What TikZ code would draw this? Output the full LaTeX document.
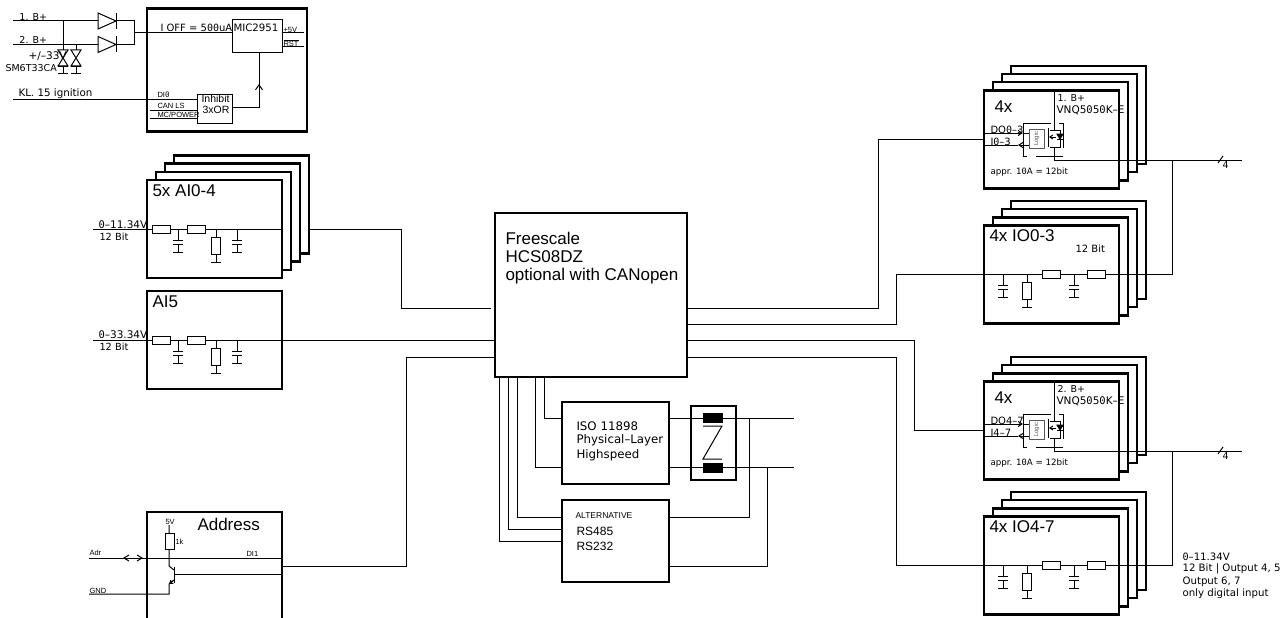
\documentclass[tikz,border=0pt]{standalone}
\usepackage{fontspec}
\setmainfont{Liberation Sans}
\newfontfamily\cadfont{DejaVu Sans}
\newfontfamily\zerofont{DejaVu Sans Mono}
\newcommand{\zr}{{\zerofont 0}}
\usetikzlibrary{arrows.meta}
\tikzset{
	capg/.pic={\draw (0,0) -- (0,11) (-5,11) -- (5,11) (-5,15) -- (5,15) (0,15) -- (0,23) (-5,23) -- (5,23);},
	resv/.pic={\draw (0,0) -- (0,8) (0,25) -- (0,33) (-5,33) -- (5,33); \draw[fill=white] (-4.5,8) rectangle (4.5,25);},
	resh/.pic={\draw[fill=white] (0,-4) rectangle (18,4);},
	diode/.pic={\draw[fill=white] (0,-8) -- (18,0) -- (0,8) -- cycle; \draw (18,-8) -- (18,8);},
	tvs/.pic={\draw (-5,0) -- (5,0) -- (-5,16) -- (5,16) -- cycle; \draw (0,16) -- (0,24) (-5,17) -- (5,17) (-5,24) -- (5,24);}
}
% front box with three boxes behind it
\newcommand{\stackbx}[3]{
	\foreach \s in {3,2,1} {\node[bx] (#1b\s) at ({#2+\s*8.9},{#3-\s*8.2}) {};}
	\node[bx] (#1) at (#2,#3) {};
}
% two resistors and a filter on the input of a card
\newcommand{\filtera}[1]{
	\pic at (152,#1) {resh};
	\pic at (187.5,#1) {resh};
	\pic at (178,#1) {capg};
	\pic at (216,#1) {resv};
	\pic at (237,#1) {capg};
}
\newcommand{\filterb}[1]{
	\pic at (1003,#1) {capg};
	\pic at (1027,#1) {resv};
	\pic at (1042.5,#1) {resh};
	\pic at (1074,#1) {capg};
	\pic at (1087.5,#1) {resh};
}
% high side switch inside a card: top of front box, supply, part, inputs
\newcommand{\switchbx}[5]{
	\begin{scope}[shift={(984,#1)}]
	\node[lbl, font=\cadfont\fontsize{9.5}{10}\selectfont] (#5s) at (73,8) {#2};
	\node[lbl, font=\cadfont\fontsize{10.5}{11}\selectfont] (#5p) at (72,20) {VNQ5\zr5\zr K–E};
	\node[ttl] (#5n) at (10,17) {4x};
	\node[lbl] (#5d) at (6,40) {#3};
	\node[lbl] (#5i) at (6,52) {#4};
	\node[lbl, font=\cadfont\fontsize{8.7}{9}\selectfont] (#5a) at (6,82) {appr. 1\zr A = 12bit};
	\draw[-{Straight Barb[length=4pt,width=5pt]}] (0,43) -- (39,43);
	\draw (39,43) -- (45,43);
	\draw[-{Straight Barb[length=4pt,width=5pt]}] (45,55) -- (34,55);
	\draw (34,55) -- (0,55);
	\draw[gray!70!black] (45,39) rectangle (60,58);
	\node[rotate=90, font=\fontsize{6}{6}\selectfont, text=gray!70!black, inner sep=0] (#5l) at (52.5,48.5) {Logic};
	\draw (39,33) -- (67,33) (39,33) -- (39,66) -- (43,66) (52,66) -- (79,66) (79,33) -- (79,58) (75,33) -- (79,33);
	\draw (70,0) -- (70,40) (70,57) -- (70,70);
	\draw (64,38) -- (64,57) (66,40) -- (76,40) -- (76,57) -- (66,57);
	\draw[fill=black] (73,44) -- (79,44) -- (76,49) -- cycle;
	\draw (73,49) -- (79,49);
	\draw[-{Straight Barb[length=3pt,width=4pt]}] (72,47) -- (65,47);
	\end{scope}
}
\begin{document}
\begin{tikzpicture}[x=1pt, y=-1pt, line width=1pt,
	bx/.style={draw, fill=white, line width=2.4pt, minimum width=135pt, minimum height=98pt, inner sep=0pt},
	thin bx/.style={draw, fill=white, line width=1pt, inner sep=0pt},
	lbl/.style={font=\cadfont\fontsize{10}{11}\selectfont, anchor=west, inner sep=0pt},
	tiny/.style={font=\fontsize{7.5}{8}\selectfont, anchor=west, inner sep=0pt},
	ttl/.style={font=\fontsize{17}{18}\selectfont, anchor=west, inner sep=0pt},
	barb/.style={-{Straight Barb[length=5pt,width=7pt]}}]
	\useasboundingbox (0,0) rectangle (1288,618);
	\clip (0,0) rectangle (1288,618);

	% boxes
	\node[bx, minimum width=160pt, minimum height=123pt] (pwr) at (227,70) {};
	\node[thin bx, minimum width=50pt, minimum height=33pt] (mic) at (257,36.5) {};
	\node[thin bx, minimum width=35pt, minimum height=29pt] (inh) at (214.5,108.5) {};
	\stackbx{aia}{214.5}{229}
	\node[bx] (aib) at (214.5,340) {};
	\node[bx, minimum height=109pt] (adr) at (214.5,566.5) {};
	\node[bx, minimum width=192pt, minimum height=164pt] (mcu) at (591,295) {};
	\node[bx, minimum width=107pt, minimum height=82pt, line width=2pt] (iso) at (615.5,443) {};
	\node[bx, minimum width=107pt, minimum height=82pt, line width=2pt] (alt) at (615.5,541) {};
	\node[bx, minimum width=45pt, minimum height=74pt, line width=2pt] (chk) at (713.5,443) {};
	\stackbx{doa}{1051.5}{139.5}
	\stackbx{ioa}{1051.5}{274.5}
	\stackbx{dob}{1051.5}{430.5}
	\stackbx{iob}{1051.5}{565.5}

	% supply and ignition
	\coordinate (ba) at (13,21);
	\coordinate (bb) at (13,44.5);
	\coordinate (kl) at (13,99);
	\draw (ba) -- (134,21) -- (134,44.5) -- (bb);
	\draw (134,33) -- (mic.west |- 0,33);
	\draw (63,21) -- (63,50) (63,44.5) -- (76,44.5) -- (76,50);
	\pic at (98,21) {diode};
	\pic at (98,44.5) {diode};
	\pic at (63,50) {tvs};
	\pic at (76,50) {tvs};
	\draw (mic.east |- 0,33) -- (304,33);
	\draw (mic.east |- 0,47) -- (304,47);
	\draw (kl) -- (inh.west |- kl);
	\draw (150,110) -- (inh.west |- 0,110);
	\draw (150,118) -- (inh.west |- 0,118);
	\draw (inh.east |- 0,107) -| (mic.south -| 259,0);
	\draw[barb] (259,95) -- (259,84);
	\node[lbl, font=\cadfont\fontsize{9.5}{10}\selectfont] (bat) at (19,17) {1. B+};
	\node[lbl, font=\cadfont\fontsize{9.5}{10}\selectfont] (bbt) at (19,40) {2. B+};
	\node[lbl, font=\cadfont\fontsize{10.5}{11}\selectfont] (tvt) at (28,56) {+/–33V};
	\node[lbl, font=\cadfont\fontsize{9.5}{10}\selectfont] (smt) at (5,68) {SM6T33CA};
	\node[lbl, font=\cadfont\fontsize{10.3}{11}\selectfont] (klt) at (18,94) {KL. 15 ignition};
	\node[lbl] (ofx) at (160,28) {I OFF = 5\zr\zr uA};
	\node[lbl, font=\cadfont\fontsize{10.2}{11}\selectfont] (mct) at (233,28) {MIC2951};
	\node[tiny] (spl) at (283,30) {+5V};
	\node[tiny] (rst) at (283,43) {$\overline{\mbox{RST}}$};
	\node[tiny] (dit) at (157,95) {DI\zr};
	\node[tiny] (cnt) at (157,106) {CAN LS};
	\node[tiny] (mpt) at (157,115) {MC/POWER};
	\node[font=\fontsize{10.5}{11}\selectfont, anchor=west, inner sep=0pt] (iht) at (201,99) {Inhibit};
	\node[font=\fontsize{10.5}{11}\selectfont, anchor=west, inner sep=0pt] (ort) at (202,110) {3xOR};

	% analog inputs
	\coordinate (ain) at (93,229);
	\coordinate (bin) at (93,340);
	\draw (ain) -- (aia.east);
	\draw (bin) -- (mcu.west |- bin);
	\filtera{229}
	\filtera{340}
	\node[ttl] (aat) at (152,191) {5x AI0-4};
	\node[ttl] (abt) at (152,302) {AI5};
	\node[lbl, font=\cadfont\fontsize{10.5}{11}\selectfont] (aav) at (98,225) {\zr–11.34V};
	\node[lbl, font=\cadfont\fontsize{9.8}{10}\selectfont] (aab) at (99,237) {12 Bit};
	\node[lbl, font=\cadfont\fontsize{10.5}{11}\selectfont] (abv) at (98,335) {\zr–33.34V};
	\node[lbl, font=\cadfont\fontsize{9.8}{10}\selectfont] (abb) at (99,347) {12 Bit};
	\draw (aiab3.east |- aia.east) -- (401,229) -- (401,308) -- (491,308);

	% address
	\coordinate (adi) at (89,558);
	\coordinate (gnd) at (89,594);
	\draw (adi) -- (adr.east |- adi);
	\draw[{Straight Barb[length=5pt,width=6pt]}-{Straight Barb[length=5pt,width=6pt]}] (123,558) -- (143,558);
	\draw (gnd) -- (169,594) -- (169,584) -- (174,580);
	\draw (169,525) -- (169,566) -- (174,570);
	\draw (174,567) -- (174,583);
	\draw (174,574) -- (adr.east |- 0,574);
	\draw[-{Straight Barb[length=3pt,width=4pt]}] (173,581) -- (169,584);
	\draw[fill=white] (165,533) rectangle (174.5,549);
	\draw (adr.east) -- (406,566.5) -- (406,357) -- (mcu.west |- 0,357);
	\node[ttl] (adt) at (197,524) {Address};
	\node[tiny] (fvt) at (165,522) {5V};
	\node[tiny] (okt) at (175,542) {1k};
	\node[tiny] (adl) at (89,553) {Adr};
	\node[tiny] (gnl) at (89,591) {GND};
	\node[tiny] (dil) at (246,554) {DI1};

	% CAN and serial
	\draw (mcu.south -| 544,0) |- (iso.west |- 0,418);
	\draw (mcu.south -| 535,0) |- (iso.west |- 0,467);
	\draw (mcu.south -| 517,0) |- (alt.west |- 0,517);
	\draw (mcu.south -| 508,0) |- (alt.west |- 0,529);
	\draw (mcu.south -| 499,0) |- (alt.west |- 0,541);
	\coordinate (cah) at (794,418);
	\coordinate (cal) at (794,467);
	\draw (iso.east |- cah) -- (cah);
	\draw (iso.east |- cal) -- (cal);
	\draw (alt.east |- 0,517) -| (749,418);
	\draw (alt.east |- 0,566) -| (767,467);
	\fill (703,413) rectangle (723,423);
	\fill (703,463) rectangle (723,473);
	\draw (703,426) -- (722,426) -- (703,459) -- (722,459);
	\node[lbl, font=\cadfont\fontsize{11.8}{12}\selectfont] (isa) at (576,426) {ISO 11898};
	\node[lbl, font=\cadfont\fontsize{11.8}{12}\selectfont] (isb) at (576,440) {Physical–Layer};
	\node[lbl, font=\cadfont\fontsize{11.8}{12}\selectfont] (isc) at (576,455) {Highspeed};
	\node[anchor=west, inner sep=0pt, font=\fontsize{8.5}{9}\selectfont] (alx) at (575,516) {ALTERNATIVE};
	\node[anchor=west, inner sep=0pt, font=\fontsize{12}{13}\selectfont] (rsa) at (576,531) {RS485};
	\node[anchor=west, inner sep=0pt, font=\fontsize{12}{13}\selectfont] (rsb) at (576,546) {RS232};
	\node[ttl, align=left] (mct2) at (505,258) {Freescale\\HCS08DZ\\optional with CANopen};

	% outputs
	\draw (mcu.east |- 0,308) -| (878,139.5) -- (doa.west);
	\draw (mcu.east |- 0,324) -| (896,274.5) -- (1172,274.5);
	\draw (mcu.east |- 0,340) -| (914,430.5) -- (dob.west);
	\draw (mcu.east |- 0,357) -| (896,565.5) -- (1172,565.5);
	\switchbx{90}{1. B+}{DO\zr–3}{I\zr–3}{swa}
	\switchbx{381}{2. B+}{DO4–7}{I4–7}{swb}
	\filterb{274.5}
	\filterb{565.5}
	\coordinate (oa) at (1242,160);
	\coordinate (ob) at (1242,451);
	\draw (1054,160) -- (oa);
	\draw (1054,451) -- (ob);
	\draw (1172,160) -- (1172,274.5);
	\draw (1172,451) -- (1172,565.5);
	\draw (1218,163) -- (1223,156);
	\draw (1218,454) -- (1223,447);
	\node[lbl, font=\cadfont\fontsize{9.5}{10}\selectfont] (fa) at (1222,165) {4};
	\node[lbl, font=\cadfont\fontsize{9.5}{10}\selectfont] (fb) at (1222,456) {4};
	\node[ttl] (iat) at (989,236) {4x IO0-3};
	\node[ttl] (ibt) at (989,527) {4x IO4-7};
	\node[lbl] (ibi) at (1075,249) {12 Bit};
	\node[lbl, font=\cadfont\fontsize{10.2}{11}\selectfont] (nta) at (1182,557) {\zr–11.34V};
	\node[lbl, font=\cadfont\fontsize{10.2}{11}\selectfont] (ntb) at (1182,569) {12 Bit | Output 4, 5};
	\node[lbl, font=\cadfont\fontsize{10.2}{11}\selectfont] (ntc) at (1182,582) {Output 6, 7};
	\node[lbl, font=\cadfont\fontsize{10.2}{11}\selectfont] (ntd) at (1182,594) {only digital input};
\end{tikzpicture}
\end{document}
